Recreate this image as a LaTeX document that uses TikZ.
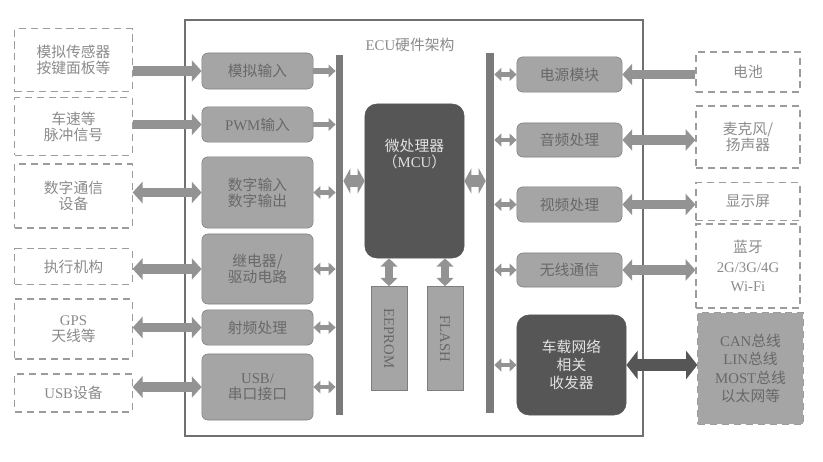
\documentclass[tikz,border=0pt]{standalone}
\usepackage{fontspec}
\setmainfont{Noto Sans CJK SC}
\newfontfamily\en{Liberation Serif}
\usetikzlibrary{arrows.meta}
\definecolor{modfill}{HTML}{A5A5A5}
\definecolor{moddraw}{HTML}{7E7E7E}
\definecolor{modtext}{HTML}{686868}
\definecolor{extdraw}{HTML}{9C9C9C}
\definecolor{exttext}{HTML}{8A8A8A}
\definecolor{darkbox}{HTML}{565656}
\definecolor{darktext}{HTML}{E2E2E2}
\definecolor{busgray}{HTML}{7A7A7A}
\definecolor{arrgray}{HTML}{939393}
\definecolor{framegray}{HTML}{707070}
\tikzset{
  module/.style={draw=moddraw, fill=modfill, rounded corners=0.15cm, text=modtext,
    align=center, minimum width=2.78cm, inner sep=1pt},
  extern/.style={draw=extdraw, line width=0.8pt, dash pattern=on 5pt off 3.5pt,
    text=exttext, align=center, inner sep=1pt},
  darkmod/.style={fill=darkbox, draw=darkbox, rounded corners=0.3cm, text=darktext,
    align=center, inner sep=1pt},
  bus/.style={fill=busgray, inner sep=0pt, minimum height=9cm},
  memory/.style={draw=moddraw, fill=modfill, text=modtext, minimum width=0.9cm,
    minimum height=2.6cm, inner sep=0pt},
  fatone/.style={line width=7pt, draw=arrgray, -{Triangle[length=7pt,width=15pt]}},
  fattwo/.style={line width=7pt, draw=arrgray,
    {Triangle[length=7pt,width=15pt]}-{Triangle[length=7pt,width=15pt]}},
  thinone/.style={line width=4pt, draw=arrgray, -{Triangle[length=5pt,width=9pt]}},
  thintwo/.style={line width=3.5pt, draw=arrgray,
    {Triangle[length=5pt,width=9pt]}-{Triangle[length=5pt,width=9pt]}},
  mcutwo/.style={line width=8pt, draw=arrgray,
    {Triangle[length=5pt,width=18pt]}-{Triangle[length=5pt,width=18pt]}},
  memtwo/.style={line width=5pt, draw=arrgray,
    {Triangle[length=6pt,width=12pt]}-{Triangle[length=6pt,width=12pt]}},
  darktwo/.style={line width=8pt, draw=darkbox,
    {Triangle[length=8pt,width=20pt]}-{Triangle[length=8pt,width=20pt]}},
}
\begin{document}
\begin{tikzpicture}[x=0.025cm, y=-0.025cm, font=\fontsize{10.5pt}{11.5pt}\selectfont]

    \useasboundingbox (0,0) rectangle (823,461);
    \draw[framegray, line width=1.2pt] (185,20) rectangle (643,436);
    \node[text=exttext] (title) at (410,45) {\en ECU\rm 硬件架构};

    \node[bus, minimum width=0.18cm] (lbus) at (339.5,235) {};
    \node[bus, minimum width=0.2cm] (rbus) at (490,233) {};

    \node[darkmod, minimum width=2.48cm, minimum height=3.85cm] (mcu) at (414.5,181) {};
    \node[text=darktext, align=center] at (414.5,154) {微处理器\\（\en MCU\rm ）};
    \node[memory] (eeprom) at (389,338.5) {\rotatebox{-90}{\en EEPROM}};
    \node[memory] (flash) at (445,338.5) {\rotatebox{-90}{\en FLASH}};

    \node[module, minimum height=0.9cm] (ain) at (257.5,71) {模拟输入};
    \node[module, minimum height=0.88cm] (pwm) at (257.5,124.5) {\en PWM\rm 输入};
    \node[module, minimum height=1.78cm] (dio) at (257.5,192.5) {数字输入\\数字输出};
    \node[module, minimum height=1.75cm] (relay) at (257.5,269) {继电器/\\驱动电路};
    \node[module, minimum height=0.88cm] (rf) at (257.5,327.5) {射频处理};
    \node[module, minimum height=1.65cm] (usb) at (257.5,387) {\en USB/\\串口接口};

    \node[extern, minimum width=2.93cm, minimum height=1.58cm] (sensor) at (73.5,60) {模拟传感器\\按键面板等};
    \node[extern, minimum width=2.93cm, minimum height=1.43cm] (pulse) at (73.5,126.5) {车速等\\脉冲信号};
    \node[extern, minimum width=2.93cm, minimum height=1.6cm] (comm) at (73.5,196) {数字通信\\设备};
    \node[extern, minimum width=2.93cm, minimum height=0.88cm] (actor) at (73.5,266.5) {执行机构};
    \node[extern, minimum width=2.93cm, minimum height=1.5cm] (gps) at (73.5,329) {\en GPS\\天线等};
    \node[extern, minimum width=2.93cm, minimum height=0.95cm] (usbdev) at (73.5,393) {\en USB\rm 设备};

    \node[module, minimum width=2.63cm, minimum height=0.88cm] (power) at (569.5,74.5) {电源模块};
    \node[module, minimum width=2.63cm, minimum height=0.85cm] (audio) at (569.5,140) {音频处理};
    \node[module, minimum width=2.63cm, minimum height=0.88cm] (video) at (569.5,204.5) {视频处理};
    \node[module, minimum width=2.63cm, minimum height=0.85cm] (wless) at (569.5,270) {无线通信};
    \node[darkmod, minimum width=2.73cm, minimum height=2.5cm,
      font=\fontsize{10.5pt}{13pt}\selectfont] (trx) at (571.5,365) {车载网络\\相关\\收发器};

    \node[extern, minimum width=2.6cm, minimum height=1cm] (batt) at (748,72) {电池};
    \node[extern, minimum width=2.6cm, minimum height=1.55cm] (mic) at (748,137) {麦克风/\\扬声器};
    \node[extern, minimum width=2.6cm, minimum height=0.93cm] (disp) at (748,201.5) {显示屏};
    \node[extern, minimum width=2.6cm, minimum height=2.1cm,
      font=\fontsize{10.5pt}{14pt}\selectfont] (bt) at (748,266) {蓝牙\\\en 2G/3G/4G\\\en Wi-Fi};
    \node[extern, fill=modfill, text=modtext, minimum width=2.63cm, minimum height=2.78cm,
      font=\fontsize{10.5pt}{13pt}\selectfont] (bus) at (750.5,368.5)
      {\en CAN\rm 总线\\\en LIN\rm 总线\\\en MOST\rm 总线\\以太网等};

    \draw[fatone] (sensor.east |- ain) -- (ain.west);
    \draw[fatone] (pulse.east |- pwm) -- (pwm.west);
    \draw[fattwo] (comm.east |- dio) -- (dio.west);
    \draw[fattwo] (actor.east |- relay) -- (relay.west);
    \draw[fattwo] (gps.east |- rf) -- (rf.west);
    \draw[fattwo] (usbdev.east |- usb) -- (usb.west);

    \draw[thinone] (ain.east) -- (ain.east -| lbus.west);
    \draw[thinone] (pwm.east) -- (pwm.east -| lbus.west);
    \draw[thintwo] (dio.east) -- (dio.east -| lbus.west);
    \draw[thintwo] (relay.east) -- (relay.east -| lbus.west);
    \draw[thintwo] (rf.east) -- (rf.east -| lbus.west);
    \draw[thintwo] (usb.east) -- (usb.east -| lbus.west);

    \draw[mcutwo] (lbus.east |- mcu) -- (mcu.west);
    \draw[mcutwo] (mcu.east) -- (mcu.east -| rbus.west);
    \draw[memtwo] (eeprom.north) -- (eeprom.north |- mcu.south);
    \draw[memtwo] (flash.north) -- (flash.north |- mcu.south);

    \draw[thintwo] (rbus.east |- power) -- (power.west);
    \draw[thintwo] (rbus.east |- audio) -- (audio.west);
    \draw[thintwo] (rbus.east |- video) -- (video.west);
    \draw[thintwo] (rbus.east |- wless) -- (wless.west);
    \draw[thintwo] (rbus.east |- trx) -- (trx.west);

    \draw[fatone] (batt.west |- power) -- (power.east);
    \draw[fattwo] (audio.east) -- (audio.east -| mic.west);
    \draw[fattwo] (video.east) -- (video.east -| disp.west);
    \draw[fattwo] (wless.east) -- (wless.east -| bt.west);
    \draw[darktwo] (trx.east) -- (trx.east -| bus.west);

\end{tikzpicture}
\end{document}
